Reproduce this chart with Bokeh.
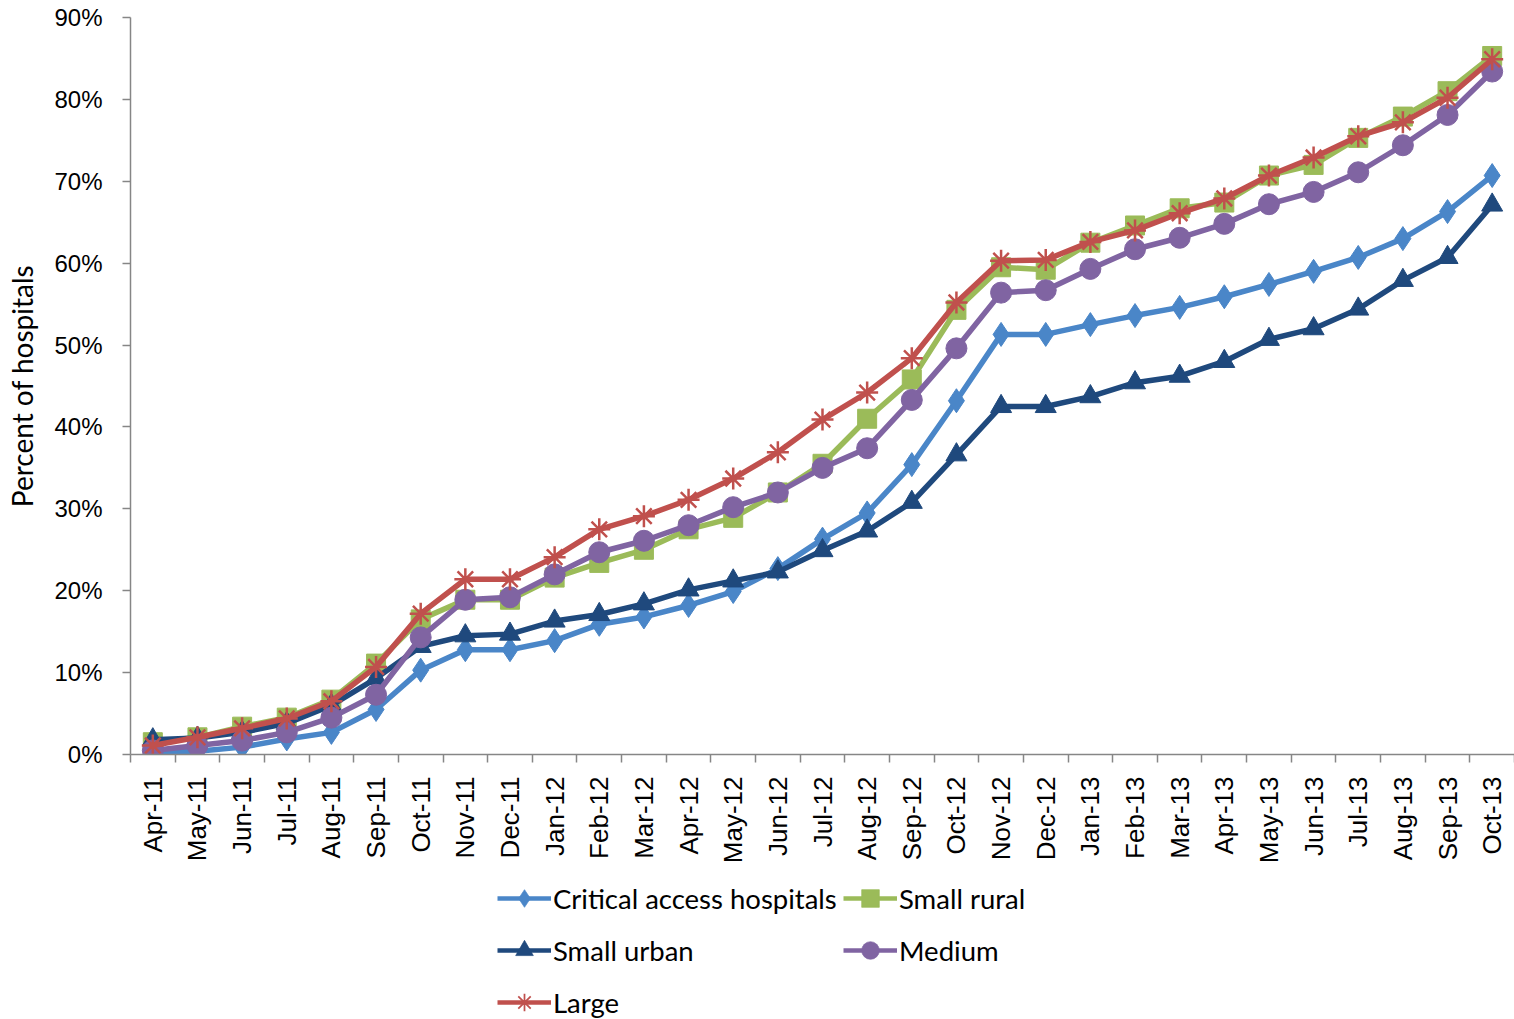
import numpy as np
from bokeh.plotting import figure
from bokeh.layouts import column
from bokeh.models import Range1d, FixedTicker, NumeralTickFormatter, Legend, LegendItem
from bokeh.embed import file_html
from bokeh.resources import INLINE

months = ["Apr-11", "May-11", "Jun-11", "Jul-11", "Aug-11", "Sep-11", "Oct-11", "Nov-11",
          "Dec-11", "Jan-12", "Feb-12", "Mar-12", "Apr-12", "May-12", "Jun-12", "Jul-12",
          "Aug-12", "Sep-12", "Oct-12", "Nov-12", "Dec-12", "Jan-13", "Feb-13", "Mar-13",
          "Apr-13", "May-13", "Jun-13", "Jul-13", "Aug-13", "Sep-13", "Oct-13"]

critical = [0.3, 0.4, 0.9, 1.9, 2.7, 5.5, 10.3, 12.8, 12.8, 13.9, 15.9, 16.8, 18.2, 19.9, 22.7,
            26.3, 29.5, 35.4, 43.2, 51.3, 51.3, 52.5, 53.6, 54.6, 55.9, 57.4, 59.0, 60.7, 63.0,
            66.3, 70.7]
small_rural = [1.5, 2.1, 3.4, 4.5, 6.7, 11.1, 16.5, 18.9, 18.9, 21.6, 23.4, 25.0, 27.5, 28.9,
               32.0, 35.5, 41.0, 45.8, 54.3, 59.5, 59.2, 62.5, 64.6, 66.7, 67.4, 70.7, 72.0,
               75.3, 77.9, 81.0, 85.3]
small_urban = [1.8, 2.0, 2.7, 3.8, 6.0, 9.3, 13.2, 14.5, 14.7, 16.3, 17.1, 18.4, 20.1, 21.2,
               22.3, 24.9, 27.3, 30.8, 36.6, 42.5, 42.5, 43.7, 45.4, 46.2, 48.0, 50.7, 52.0,
               54.4, 57.9, 60.7, 67.1]
medium = [0.5, 1.1, 1.7, 2.7, 4.5, 7.3, 14.3, 18.9, 19.2, 22.0, 24.7, 26.1, 28.0, 30.2, 32.0,
          35.0, 37.4, 43.3, 49.6, 56.4, 56.7, 59.3, 61.7, 63.1, 64.8, 67.2, 68.7, 71.1, 74.4,
          78.1, 83.4]
large = [1.1, 2.1, 3.2, 4.4, 6.5, 10.7, 17.2, 21.4, 21.4, 24.1, 27.5, 29.1, 31.1, 33.7, 36.9,
         40.9, 44.2, 48.4, 55.2, 60.3, 60.4, 62.6, 64.0, 66.1, 67.9, 70.7, 72.9, 75.5, 77.2,
         80.2, 84.9]

series_names = ["Critical access hospitals", "Small rural", "Small urban", "Medium", "Large"]
series_values = [critical, small_rural, small_urban, medium, large]
series_colors = ["#4A86C8", "#9BBB59", "#1F497D", "#8064A2", "#C0504D"]
series_markers = ["diamond", "square", "triangle", "circle", "asterisk"]
marker_sizes = [24, 19, 21, 21, 22]

n = len(months)
xs = [i + 0.5 for i in range(n)]

p = figure(frame_width=1384, frame_height=737, output_backend="svg", toolbar_location=None,
           x_range=Range1d(0, n), y_range=Range1d(0, 0.9),
           min_border_left=130, min_border_right=0, min_border_top=17, min_border_bottom=110)
p.outline_line_color = None
p.xgrid.visible = False
p.ygrid.visible = False
p.background_fill_color = "white"

axis_color = "#868686"

xa = p.xaxis[0]
xa.ticker = FixedTicker(ticks=xs, minor_ticks=list(range(n + 1)))
xa.major_label_overrides = {x: m for x, m in zip(xs, months)}
xa.major_label_orientation = np.pi / 2
xa.major_tick_out = 0
xa.major_tick_in = 0
xa.minor_tick_out = 8
xa.minor_tick_in = 0
xa.minor_tick_line_color = axis_color
xa.minor_tick_line_width = 1.5
xa.axis_line_color = axis_color
xa.axis_line_width = 1.5
xa.major_label_text_font = "Liberation Sans"
xa.major_label_text_font_size = "26px"
xa.major_label_text_color = "black"
xa.major_label_standoff = 14

ya = p.yaxis[0]
ya.ticker = FixedTicker(ticks=[i / 10 for i in range(10)], minor_ticks=[])
ya.formatter = NumeralTickFormatter(format="0%")
ya.major_tick_out = 8
ya.major_tick_in = 0
ya.major_tick_line_color = axis_color
ya.major_tick_line_width = 1.5
ya.minor_tick_out = 0
ya.minor_tick_in = 0
ya.axis_line_color = axis_color
ya.axis_line_width = 1.5
ya.major_label_text_font = "Liberation Sans"
ya.major_label_text_font_size = "24px"
ya.major_label_text_color = "black"
ya.major_label_standoff = 20
ya.axis_label = "Percent of hospitals"
ya.axis_label_text_font = "Lato"
ya.axis_label_text_font_style = "normal"
ya.axis_label_text_font_size = "28px"
ya.axis_label_text_color = "black"
ya.axis_label_standoff = 12

# legend panel below the chart (its own view range keeps its copies of the series out of sight)
p2 = figure(width=1514, height=155, output_backend="svg", toolbar_location=None,
            x_range=Range1d(-20, -10), y_range=Range1d(-20, -10),
            x_axis_location=None, y_axis_location=None,
            min_border_left=0, min_border_right=0, min_border_top=0, min_border_bottom=0)
p2.outline_line_color = None
p2.xgrid.visible = False
p2.ygrid.visible = False

items = {}
for name, vals, col, mk, ms in zip(series_names, series_values, series_colors, series_markers, marker_sizes):
    ys = [v / 100 for v in vals]
    p.line(xs, ys, line_color=col, line_width=5.5)
    lw = 2.5 if mk == "asterisk" else 1
    p.scatter(xs, ys, marker=mk, size=ms, line_color=col, line_width=lw, fill_color=col)
    l1 = p2.line(xs, ys, line_color=col, line_width=4.5)
    l2 = p2.scatter(xs, ys, marker=mk, size=ms - 3, line_color=col, line_width=lw * 0.7, fill_color=col)
    items[name] = LegendItem(label=name, renderers=[l1, l2])


def make_legend(names, loc):
    lg = Legend(items=[items[nm] for nm in names], location=loc)
    lg.label_text_font = "Lato"
    lg.label_text_font_size = "27.5px"
    lg.label_text_color = "black"
    lg.label_standoff = 2
    lg.glyph_width = 54
    lg.glyph_height = 44
    lg.label_height = 44
    lg.spacing = 8
    lg.padding = 0
    lg.margin = 0
    lg.border_line_color = None
    lg.background_fill_alpha = 0
    return lg


p2.add_layout(make_legend(["Critical access hospitals", "Small urban", "Large"], (367, -3)), "center")
p2.add_layout(make_legend(["Small rural", "Medium"], (713, 49)), "center")

layout = column(p, p2)
open("out.html", "w").write(file_html(layout, INLINE))
